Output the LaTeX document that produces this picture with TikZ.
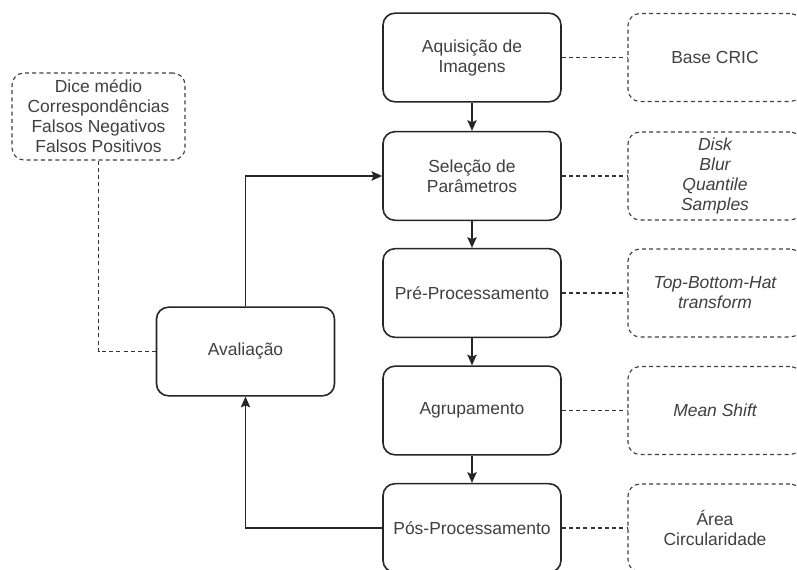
\documentclass[tikz,border=0pt]{standalone}
\usepackage{fontspec}
\setmainfont{Liberation Sans}
\usetikzlibrary{arrows.meta}
\begin{document}
\begin{tikzpicture}[x=0.75pt,y=-0.75pt,
  txt/.style={align=center, inner sep=0pt, text=black!75, font=\fontsize{13.1}{15}\selectfont},
  mainbox/.style={txt, draw=black!85, line width=1.2pt, rounded corners=9pt, minimum width=133.5pt, minimum height=66.5pt},
  notebox/.style={txt, draw=black!75, line width=0.85pt, dash pattern=on 3pt off 2.4pt, rounded corners=9pt, minimum width=130.5pt, minimum height=66pt},
  flow/.style={draw=black!85, line width=1.2pt, -{Stealth[length=8pt,width=7pt,inset=1.5pt]}},
  link/.style={draw=black!80, line width=0.85pt, dash pattern=on 3pt off 2.4pt}
]
\useasboundingbox (0,0) rectangle (797,570);
\fill[white] (0,0) rectangle (797,570);

% main column
\node[mainbox] (A) at (472,57.5) {Aquisição de\\Imagens};
\node[mainbox] (S) at (472,176) {Seleção de\\Parâmetros};
\node[mainbox] (P) at (472,293) {Pré-Processamento};
\node[mainbox] (G) at (472,410.5) {Agrupamento};
\node[mainbox] (Q) at (472,528) {Pós-Processamento};
\node[mainbox] (V) at (245.5,351.5) {Avaliação};

% notes
\node[notebox] (nA) at (715,57.5) {Base CRIC};
\node[notebox] (nS) at (715,176) {\itshape Disk\\\itshape Blur\\\itshape Quantile\\\itshape Samples};
\node[notebox] (nP) at (715,293) {\itshape Top-Bottom-Hat\\\itshape transform};
\node[notebox] (nG) at (715,410.5) {\itshape Mean Shift};
\node[notebox] (nQ) at (715,528) {Área\\Circularidade};
\node[notebox, minimum width=129.75pt, minimum height=65.25pt] (nV) at (98.5,116.5) {Dice médio\\Correspondências\\Falsos Negativos\\Falsos Positivos};

% flow arrows
\draw[flow] (A) -- (S);
\draw[flow] (S) -- (P);
\draw[flow] (P) -- (G);
\draw[flow] (G) -- (Q);
\draw[flow] (Q.west) -| (V.south);
\draw[flow] (V.north) |- (S.west);

% dashed links
\draw[link] (A.east) -- (nA.west);
\draw[link] (S.east) -- (nS.west);
\draw[link] (P.east) -- (nP.west);
\draw[link] (G.east) -- (nG.west);
\draw[link] (Q.east) -- (nQ.west);
\draw[link] (nV.south) |- (V.west);
\end{tikzpicture}
\end{document}
